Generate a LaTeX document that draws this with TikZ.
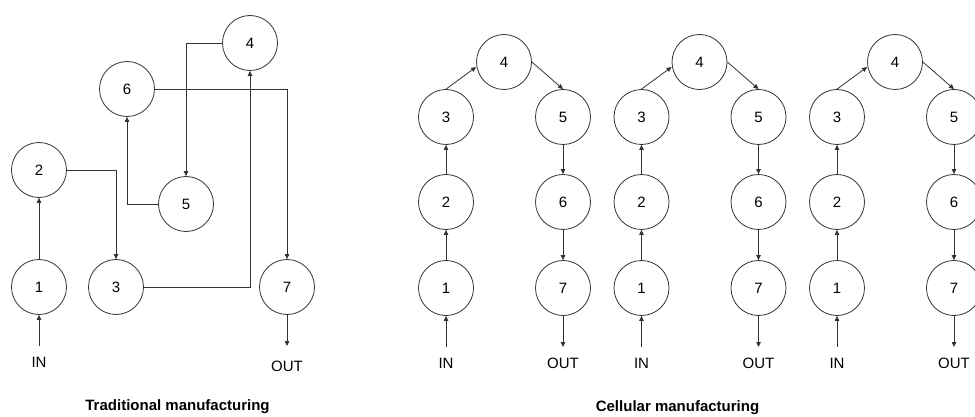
\documentclass[tikz,border=0pt]{standalone}
\usepackage{fontspec}
\setmainfont{Liberation Sans}
\usetikzlibrary{arrows.meta}
\begin{document}
\begin{tikzpicture}[x=1pt,y=-1pt,
  station/.style={circle,draw=black!80,line width=0.8pt,minimum size=55pt,inner sep=0pt,font=\fontsize{15}{17}\selectfont},
  flow/.style={draw=black!80,line width=0.8pt,-{Triangle[length=5pt,width=4.5pt]}},
  endlabel/.style={inner sep=0pt,font=\fontsize{15}{17}\selectfont},
  caption/.style={inner sep=0pt,font=\fontsize{15}{17}\selectfont\bfseries}]
\useasboundingbox (0,0) rectangle (975,417);

% Traditional layout: stations scattered, routed with elbow connectors
\node[station] (t1) at (39,287) {1};
\node[station] (t2) at (39,170) {2};
\node[station] (t3) at (116,287) {3};
\node[station] (t4) at (250,43) {4};
\node[station] (t5) at (186,204) {5};
\node[station] (t6) at (127,89) {6};
\node[station] (t7) at (287,287) {7};
\node[endlabel] (tin) at (39,362) {IN};
\node[endlabel] (tout) at (287,366) {OUT};
\coordinate (tinA) at (39,346);
\coordinate (toutA) at (287,346);

\draw[flow] (tinA) -- (t1.south);
\draw[flow] (t1) -- (t2);
\draw[flow] (t2.east) -| (t3.north);
\draw[flow] (t3.east) -| (t4.south);
\draw[flow] (t4.west) -| (t5.north);
\draw[flow] (t5.west) -| (t6.south);
\draw[flow] (t6.east) -| (t7.north);
\draw[flow] (t7.south) -- (toutA);

\node[caption] (tcap) at (177.5,407) {Traditional manufacturing};

% Cellular layout: three identical U-shaped cells
\foreach \i/\dx in {1/0,2/195.5,3/391}{
  \begin{scope}[xshift=\dx]
    \node[station] (c\i-1) at (446,288) {1};
    \node[station] (c\i-2) at (446,202) {2};
    \node[station] (c\i-3) at (446,117) {3};
    \node[station] (c\i-4) at (504,62) {4};
    \node[station] (c\i-5) at (563,117) {5};
    \node[station] (c\i-6) at (563,202) {6};
    \node[station] (c\i-7) at (563,288) {7};
    \node[endlabel] (cin\i) at (446,363) {IN};
    \node[endlabel] (cout\i) at (563,363) {OUT};
    \coordinate (cinA\i) at (446,347);
    \coordinate (coutA\i) at (563,347);
    \draw[flow] (cinA\i) -- (c\i-1.south);
    \draw[flow] (c\i-1) -- (c\i-2);
    \draw[flow] (c\i-2) -- (c\i-3);
    \draw[flow] (c\i-3.north) -- ([yshift=-5pt]c\i-4.west);
    \draw[flow] (c\i-4.east) -- (c\i-5.north);
    \draw[flow] (c\i-5) -- (c\i-6);
    \draw[flow] (c\i-6) -- (c\i-7);
    \draw[flow] (c\i-7.south) -- (coutA\i);
  \end{scope}
}

\node[caption] (ccap) at (677.5,408) {Cellular manufacturing};
\end{tikzpicture}
\end{document}
